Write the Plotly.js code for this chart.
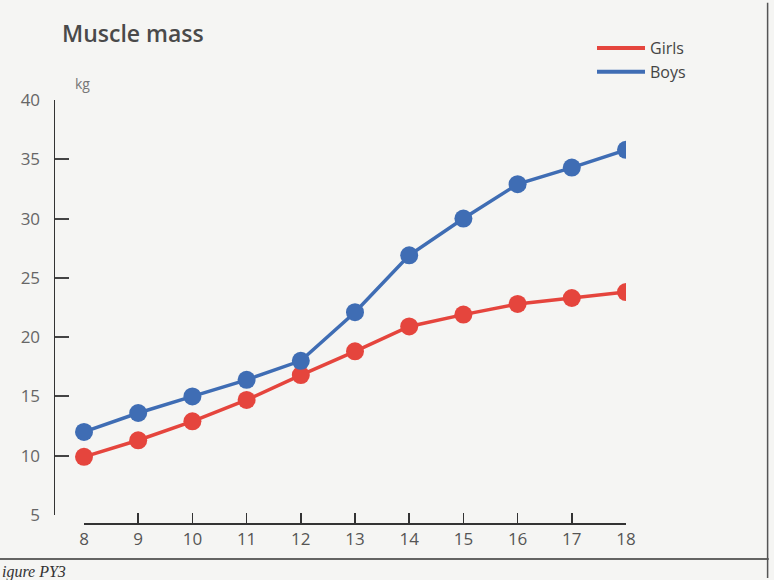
<!DOCTYPE html>
<html>
<head>
<meta charset="utf-8">
<script src="https://cdn.plot.ly/plotly-3.0.1.min.js"></script>
<style>
  html, body { margin: 0; padding: 0; background: #f5f5f3; }
  #chart { width: 774px; height: 580px; }
</style>
</head>
<body>
<div id="chart"></div>
<script>
'use strict'
// ages and muscle mass (kg)
const ages = [8, 9, 10, 11, 12, 13, 14, 15, 16, 17, 18];
const girls = [9.9, 11.3, 12.9, 14.7, 16.8, 18.8, 20.9, 21.9, 22.8, 23.3, 23.8];
const boys = [12.0, 13.6, 15.0, 16.4, 18.0, 22.1, 26.9, 30.0, 32.9, 34.3, 35.8];
const yTicks = [5, 10, 15, 20, 25, 30, 35, 40];

const red = '#e5453d';
const blue = '#3f6db4';
const textFont = 'Open Sans, Noto Sans, sans-serif';

function series(name, y, color) {
  return {
    x: ages, y: y, name: name, type: 'scatter', mode: 'lines+markers',
    line: {color: color, width: 3.5},
    marker: {color: color, size: 18},
    showlegend: false, hoverinfo: 'skip'
  };
}
// legend only shows the line, like the printed key; sits on the drawn age axis
function key(name, color) {
  return {
    x: [null], y: [null], name: name, type: 'scatter', mode: 'lines',
    xaxis: 'x2', line: {color: color, width: 4}
  };
}

let data = [
  series('Girls', girls, red),
  series('Boys', boys, blue),
  key('Girls', red),
  key('Boys', blue)
];

let layout = {
  width: 774, height: 580,
  margin: {l: 55, r: 148, t: 100, b: 57, autoexpand: false},
  paper_bgcolor: '#f5f5f3',
  plot_bgcolor: 'rgba(0,0,0,0)',
  title: {
    text: 'Muscle mass', xref: 'container', yref: 'container',
    x: 62 / 774, y: 1 - 34 / 580, xanchor: 'left', yanchor: 'middle',
    font: {family: textFont, size: 23, color: '#4a4a4a', weight: 600}
  },
  // data axis: starts a bit left of age 8 so the y axis stands apart
  xaxis: {
    domain: [0, 1], range: [7.465, 18],
    showline: false, showticklabels: false, ticks: '',
    showgrid: false, zeroline: false
  },
  // drawn age axis, 8 to 18 only, slightly under the y axis foot
  xaxis2: {
    domain: [0.0508, 1], range: [8, 18],
    anchor: 'free', position: 0,
    tickvals: ages, ticks: 'inside', ticklen: 10, tickwidth: 1.5, tickcolor: '#333',
    showline: true, linecolor: '#333', linewidth: 1.5,
    showgrid: false, zeroline: false,
    tickfont: {family: textFont, size: 17, color: '#555'}
  },
  yaxis: {
    domain: [0.019, 1], range: [5, 40],
    anchor: 'x',
    tickvals: yTicks, ticks: 'inside', ticklen: 14, tickwidth: 2, tickcolor: '#444',
    showline: true, linecolor: '#333', linewidth: 1.5,
    showgrid: false, zeroline: false, ticklabelstandoff: 10,
    tickfont: {family: textFont, size: 17, color: '#666'}
  },
  legend: {
    xref: 'container', yref: 'container',
    x: 592 / 774, y: 1 - 31 / 580, xanchor: 'left', yanchor: 'top',
    bgcolor: 'rgba(0,0,0,0)', itemwidth: 48, tracegroupgap: 0,
    font: {family: textFont, size: 16, color: '#444'}
  },
  annotations: [
    {text: 'kg', xref: 'paper', yref: 'paper', x: 0.0315, y: 1.066,
     showarrow: false, font: {family: textFont, size: 14, color: '#777'}},
    {text: 'igure PY3', xref: 'paper', yref: 'paper', x: -0.0963, y: -0.116,
     xanchor: 'left', yanchor: 'middle', showarrow: false,
     font: {family: 'Liberation Serif, serif', size: 16, color: '#333', style: 'italic'}}
  ],
  shapes: [
    // page rule under the figure and page edge on the right
    {type: 'line', xref: 'paper', yref: 'paper', x0: -0.1, x1: 1.25, y0: -0.085, y1: -0.085,
     line: {color: '#333', width: 1.5}},
    {type: 'line', xref: 'paper', yref: 'paper', x0: 1.248, x1: 1.248, y0: -0.13, y1: 1.23,
     line: {color: '#555', width: 1.5}}
  ]
};

Plotly.newPlot(document.getElementById('chart'), data, layout, {staticPlot: true});
</script>
</body>
</html>
